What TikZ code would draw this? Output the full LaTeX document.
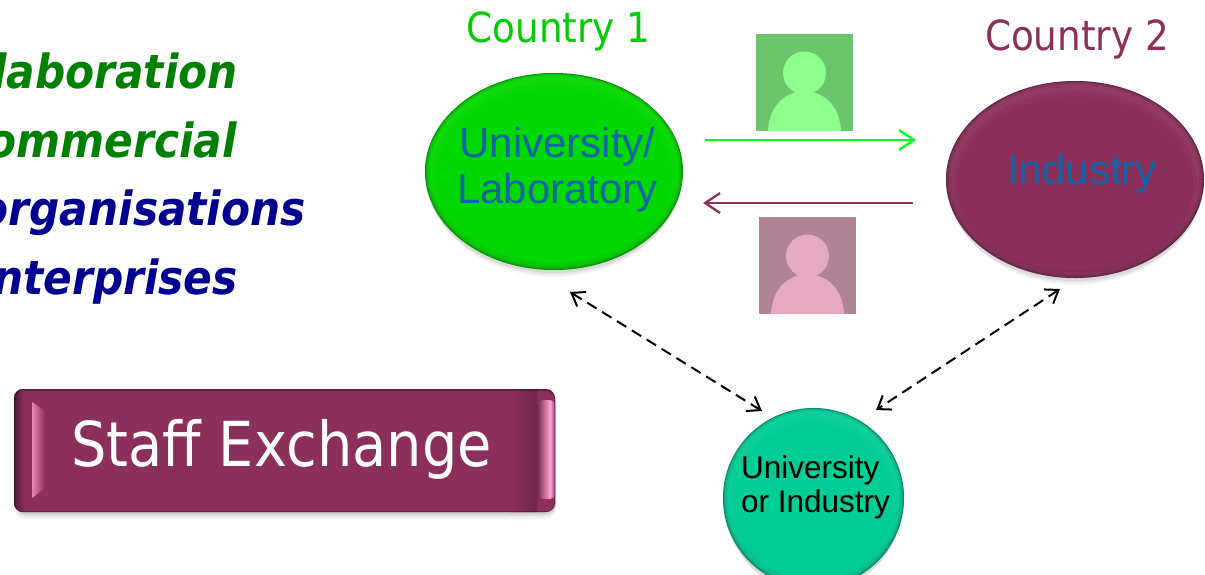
\documentclass[tikz,border=0pt]{standalone}
\usepackage{fontspec}
\setmainfont{Liberation Sans}
\newfontfamily\tah[FakeStretch=0.9]{DejaVu Sans}
\usetikzlibrary{shapes.geometric,arrows.meta}
\definecolor{maroon}{HTML}{8B2F5B}
\definecolor{lime}{HTML}{00D800}
\definecolor{tealg}{HTML}{00CC96}
\definecolor{inkblue}{HTML}{1464A8}
\definecolor{brightg}{HTML}{00FF1E}
\definecolor{dblue}{HTML}{000090}
\definecolor{dgreen}{HTML}{008000}
\definecolor{iconga}{HTML}{6CC56C}
\definecolor{icongb}{HTML}{8CFF8C}
\definecolor{iconpa}{HTML}{B08494}
\definecolor{iconpb}{HTML}{E6A9C2}
\definecolor{countrygreen}{HTML}{00CC00}
\definecolor{strippink}{HTML}{EC84B8}
\definecolor{strippale}{HTML}{FFA4D2}
\newcommand{\bevelblob}[4]{% center, rx, ry, colour
  \fill[black,opacity=.04] (#1) ++(0,7) ellipse [x radius=#2-4,y radius=#3];
  \fill[black,opacity=.05] (#1) ++(0,5) ellipse [x radius=#2-2,y radius=#3];
  \fill[black,opacity=.07] (#1) ++(0,3) ellipse [x radius=#2,y radius=#3];
  \fill[#4] (#1) ellipse [x radius=#2,y radius=#3];
  \begin{scope}
    \clip (#1) ellipse [x radius=#2,y radius=#3];
    \draw[white,opacity=.025,line width=22pt] (#1) ++(0,5) ellipse [x radius=#2,y radius=#3];
    \draw[white,opacity=.03,line width=14pt] (#1) ++(0,3) ellipse [x radius=#2,y radius=#3];
    \draw[black,opacity=.05,line width=10pt] (#1) ++(0,-2) ellipse [x radius=#2,y radius=#3];
    \draw[black,opacity=.07,line width=6pt] (#1) ++(0,-1) ellipse [x radius=#2,y radius=#3];
    \draw[black,opacity=.12,line width=3pt] (#1) ++(0,-.5) ellipse [x radius=#2,y radius=#3];
    \draw[black,opacity=.16,line width=1.2pt] (#1) ellipse [x radius=#2,y radius=#3];
  \end{scope}
}
\newcommand{\personicon}[4]{% x, y of top left, tile colour, figure colour
  \fill[#3] (#1,#2) rectangle ++(97,97);
  \begin{scope}
    \clip (#1,#2) rectangle ++(97,97);
    \fill[#4] (#1+12,#2+97) .. controls (#1+13,#2+76) and (#1+25,#2+58) .. (#1+48.5,#2+57)
       .. controls (#1+72,#2+58) and (#1+84,#2+76) .. (#1+85,#2+97) -- cycle;
    \fill[#4] (#1+48.5,#2+39) circle [radius=21.5];
  \end{scope}
}
\tikzset{
  x=1pt,y=-1pt,
  listgreen/.style={anchor=base east,text=dgreen,font=\tah\bfseries\itshape\fontsize{47}{47}\selectfont,inner sep=0pt},
  listblue/.style={anchor=base east,text=dblue,font=\tah\bfseries\itshape\fontsize{47}{47}\selectfont,inner sep=0pt},
  countrylabel/.style={font=\tah\fontsize{41.5}{41.5}\selectfont,inner sep=0pt},
  bigtext/.style={align=center,text=inkblue,font=\fontsize{42}{46}\selectfont,inner sep=0pt},
  flow/.style={line width=2.3pt,-{Straight Barb[length=15pt,width=20pt,line width=2.3pt]}},
  link/.style={black,line width=2pt,dash pattern=on 11pt off 6.5pt,{Straight Barb[length=12pt,width=17pt,line width=2pt]}-{Straight Barb[length=12pt,width=17pt,line width=2pt]}},
}
\begin{document}
\begin{tikzpicture}
\useasboundingbox (0,0) rectangle (1205,574);
% left list
\node[listgreen] (l1) at (238,88) {laboration};
\node[listgreen] (l2) at (237,157) {ommercial};
\node[listblue] (l3) at (306,225) {organisations};
\node[listblue] (l4) at (238,294) {nterprises};
% button
\fill[black,opacity=.05,rounded corners=11pt] (14,394) rectangle (556,519);
\fill[black,opacity=.07,rounded corners=10pt] (15,394) rectangle (556,516);
\fill[black,opacity=.09,rounded corners=10pt] (15,392) rectangle (556,514);
\fill[maroon,rounded corners=9pt] (14,389) rectangle (555,512);
\begin{scope}
  \clip[rounded corners=9pt] (14,389) rectangle (555,512);
  \shade[left color=black!45!maroon,right color=maroon] (14,389) rectangle (24,512);
  \shade[left color=maroon,right color=black!18!maroon] (510,389) rectangle (537,512);
  \shade[left color=strippink,right color=maroon] (32,402) -- (45,411) -- (45,488) -- (32,498) -- cycle;
  \begin{scope}
    \clip[rounded corners=7pt] (537,400) rectangle (556,499);
    \shade[left color=black!18!maroon,right color=strippale] (537,400) rectangle (550,499);
    \shade[left color=strippale,right color=maroon] (550,400) rectangle (556,499);
  \end{scope}
  \draw[black,opacity=.35,line width=1.5pt,rounded corners=9pt] (14,390) rectangle (555,512);
\end{scope}
\node[text=white,font=\tah\fontsize{62}{62}\selectfont,inner sep=0pt] (btnt) at (281.5,449) {Staff Exchange};
% person icons
\personicon{756}{34}{iconga}{icongb}
\personicon{759}{217}{iconpa}{iconpb}
% country labels
\node[countrylabel,text=countrygreen] (c1) at (558.5,31) {Country 1};
\node[countrylabel,text=maroon] (c2) at (1077,39) {Country 2};
% ellipses
\bevelblob{554,171.5}{129}{98.5}{lime}
\bevelblob{1075,179.5}{129}{98.5}{maroon}
\bevelblob{813.5,498}{90.5}{90}{tealg}
\node[bigtext] (u) at (557.5,170) {University/\\Laboratory};
\node[bigtext] (i) at (1082,174) {Industry};
\node[align=left,anchor=west,text=black,font=\fontsize{31.5}{34}\selectfont,inner sep=0pt] (o) at (741,487) {University\\or Industry};
% connector ends
\coordinate (ga) at (705,140);
\coordinate (gb) at (916,140);
\coordinate (ma) at (913,203);
\coordinate (mb) at (703,203);
\coordinate (da) at (570,292);
\coordinate (db) at (762,411);
\coordinate (ea) at (1060,289);
\coordinate (eb) at (876,410);
\draw[flow,brightg] (ga) -- (gb);
\draw[flow,maroon] (ma) -- (mb);
\draw[link] (da) -- (db);
\draw[link] (ea) -- (eb);
\end{tikzpicture}
\end{document}
